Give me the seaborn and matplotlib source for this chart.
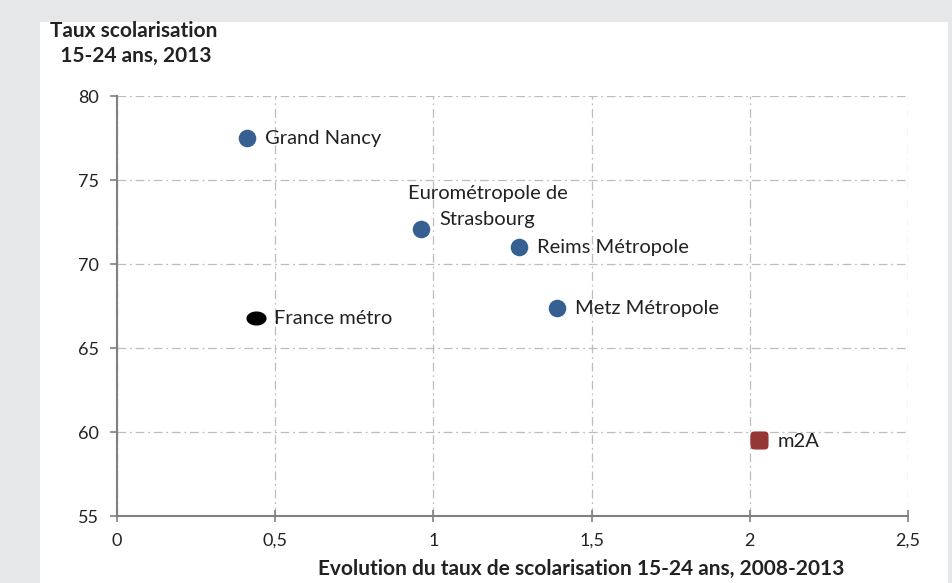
import numpy as np
import pandas as pd
import matplotlib.pyplot as plt
import seaborn as sns
from matplotlib.patches import Rectangle
from matplotlib.path import Path

# données
territoires = ["Grand Nancy", "Eurométropole de\nStrasbourg", "Reims Métropole",
               "Metz Métropole", "France métro", "m2A"]
evolution = [0.41, 0.96, 1.27, 1.39, 0.44, 2.03]
taux_2013 = [77.5, 72.1, 71.0, 67.4, 66.8, 59.5]
groupe = ["autre", "autre", "autre", "autre", "france", "m2a"]

x_ticks = [0, 0.5, 1, 1.5, 2, 2.5]
x_tick_labels = ["0", "0,5", "1", "1,5", "2", "2,5"]
y_ticks = [55, 60, 65, 70, 75, 80]

df = pd.DataFrame({"territoire": territoires, "evolution": evolution,
                   "taux": taux_2013, "groupe": groupe})

sns.set_theme(style="white")
plt.rcParams['font.family'] = ['Lato', 'DejaVu Sans']

fig = plt.figure(figsize=(9.53, 5.83), dpi=100)
fig.patch.set_facecolor("#e6e7e8")
# panneau blanc
fig.patches.append(Rectangle((40 / 953, 0), 908 / 953, 1 - 22 / 583,
                             transform=fig.transFigure, facecolor="white",
                             edgecolor="none", zorder=-5))

ax = fig.add_axes([117 / 953, 1 - 516 / 583, 791 / 953, 420 / 583])
ax.set_facecolor("none")

# marqueurs : ellipse (France métro) et carré arrondi (m2A)
t = np.linspace(0, 2 * np.pi, 80)
ellipse = Path(np.column_stack([np.cos(t), 0.7 * np.sin(t)]))
c, s_ = np.cos(t), np.sin(t)
carre_arrondi = Path(np.column_stack([np.sign(c) * np.abs(c) ** 0.35,
                                      np.sign(s_) * np.abs(s_) ** 0.35]))

palette = {"autre": "#376092", "france": "#000000", "m2a": "#953735"}
markers = {"autre": "o", "france": ellipse, "m2a": carre_arrondi}
sizes = {"autre": 160, "france": 210, "m2a": 170}

for g, sub in df.groupby("groupe"):
    sns.scatterplot(data=sub, x="evolution", y="taux", color=palette[g],
                    marker=markers[g], s=sizes[g], linewidth=0, ax=ax,
                    zorder=3, legend=False)

# étiquettes
for _, r in df.iterrows():
    if r["territoire"].startswith("Euro"):
        ax.annotate(r["territoire"], (r["evolution"], r["taux"]),
                    xytext=(48, 16), textcoords="offset points", ha="center",
                    va="center", fontsize=14.5, color="#222222", linespacing=1.7)
    else:
        ax.annotate(r["territoire"], (r["evolution"], r["taux"]),
                    xytext=(13, -0.5), textcoords="offset points", ha="left",
                    va="center", fontsize=14.5, color="#222222")

ax.set_xlim(0, 2.5)
ax.set_ylim(55, 80)
ax.set_xticks(x_ticks)
ax.set_xticklabels(x_tick_labels)
ax.set_yticks(y_ticks)

ax.grid(True, color="#bdbdbd", linestyle=(0, (7, 3, 1.5, 3)), linewidth=0.9)
for side in ["top", "right"]:
    ax.spines[side].set_visible(False)
for side in ["left", "bottom"]:
    ax.spines[side].set_color("#808080")
    ax.spines[side].set_linewidth(1.5)

ax.tick_params(axis="x", direction="inout", length=8, width=1.2, color="#808080",
               labelsize=13, labelcolor="#222222", pad=8, bottom=True)
ax.tick_params(axis="y", direction="out", length=5, width=1.2, color="#808080",
               labelsize=13, labelcolor="#222222", pad=8, left=True)

ax.set_xlabel("")
ax.set_ylabel("")
fig.text(581 / 953, 1 - 569 / 583,
         "Evolution du taux de scolarisation 15-24 ans, 2008-2013",
         fontsize=15, fontweight="bold", color="#222222", ha="center", va="center")
fig.text(50 / 953, 1 - 21 / 583, "Taux scolarisation\n  15-24 ans, 2013",
         fontsize=15, fontweight="bold", color="#222222", va="top", ha="left",
         linespacing=1.3)

fig.savefig("out.png", dpi=100, facecolor=fig.get_facecolor())
